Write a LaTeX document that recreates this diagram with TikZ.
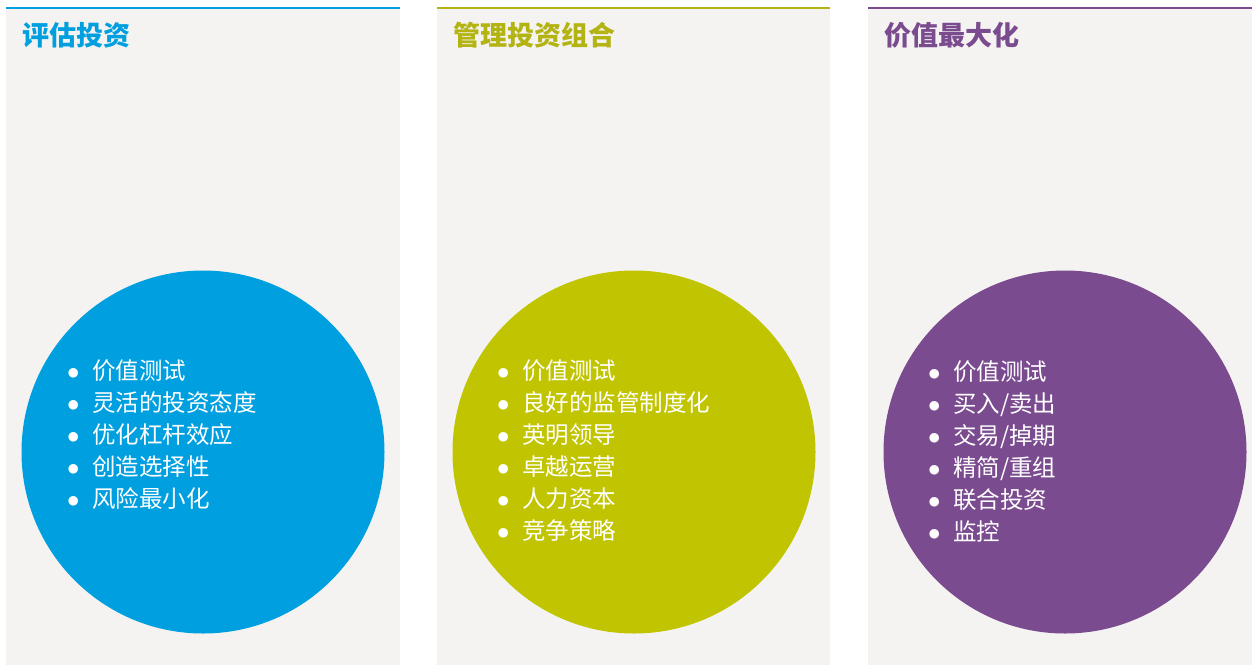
\documentclass[tikz,border=0pt]{standalone}
\usepackage{fontspec}
\newfontfamily\cjk{Noto Sans CJK SC}
\usetikzlibrary{positioning}
\definecolor{paper}{HTML}{F4F3F1}
\definecolor{evalblue}{HTML}{009FDF}
\definecolor{mgmtolive}{HTML}{C1C400}
\definecolor{mgmttitle}{HTML}{B3B312}
\definecolor{valpurple}{HTML}{7B4B90}
\newcommand{\bul}{\makebox[25pt][l]{$\bullet$}}

\begin{document}
\begin{tikzpicture}[x=1pt,y=-1pt,
  panel/.style={fill=paper,draw=none},
  toprule/.style={line width=2.5pt},
  title/.style={font=\cjk\bfseries\fontsize{27}{27}\selectfont,anchor=west,inner sep=0pt},
  disc/.style={circle,minimum size=363pt,inner sep=0pt,draw=none},
  items/.style={font=\cjk\fontsize{23.5}{32}\selectfont,text=white,align=left,anchor=west,inner sep=0pt}]
  \useasboundingbox (0,0) rectangle (1252,665);

  %left panel
  \fill[panel] (6,8) rectangle (400,665);
  \draw[toprule,evalblue] (6,8) -- (400,8);
  \node[title,text=evalblue] (evaltitle) at (22,35) {评估投资};
  \node[disc,fill=evalblue] (evaldisc) at (203,452) {};
  \node[items] (evallist) at (67,435) {\bul 价值测试\\ \bul 灵活的投资态度\\ \bul 优化杠杆效应\\ \bul 创造选择性\\ \bul 风险最小化};

  %middle panel
  \fill[panel] (437,8) rectangle (830,665);
  \draw[toprule,mgmttitle] (437,8) -- (830,8);
  \node[title,text=mgmttitle] (mgmttitle) at (453,35) {管理投资组合};
  \node[disc,fill=mgmtolive] (mgmtdisc) at (634,452) {};
  \node[items] (mgmtlist) at (497,451) {\bul 价值测试\\ \bul 良好的监管制度化\\ \bul 英明领导\\ \bul 卓越运营\\ \bul 人力资本\\ \bul 竞争策略};

  %right panel
  \fill[panel] (868,8) rectangle (1252,665);
  \draw[toprule,valpurple] (868,8) -- (1252,8);
  \node[title,text=valpurple] (valtitle) at (884,35) {价值最大化};
  \node[disc,fill=valpurple] (valdisc) at (1065,452) {};
  \node[items] (vallist) at (928,451) {\bul 价值测试\\ \bul 买入/卖出\\ \bul 交易/掉期\\ \bul 精简/重组\\ \bul 联合投资\\ \bul 监控};
\end{tikzpicture}
\end{document}
